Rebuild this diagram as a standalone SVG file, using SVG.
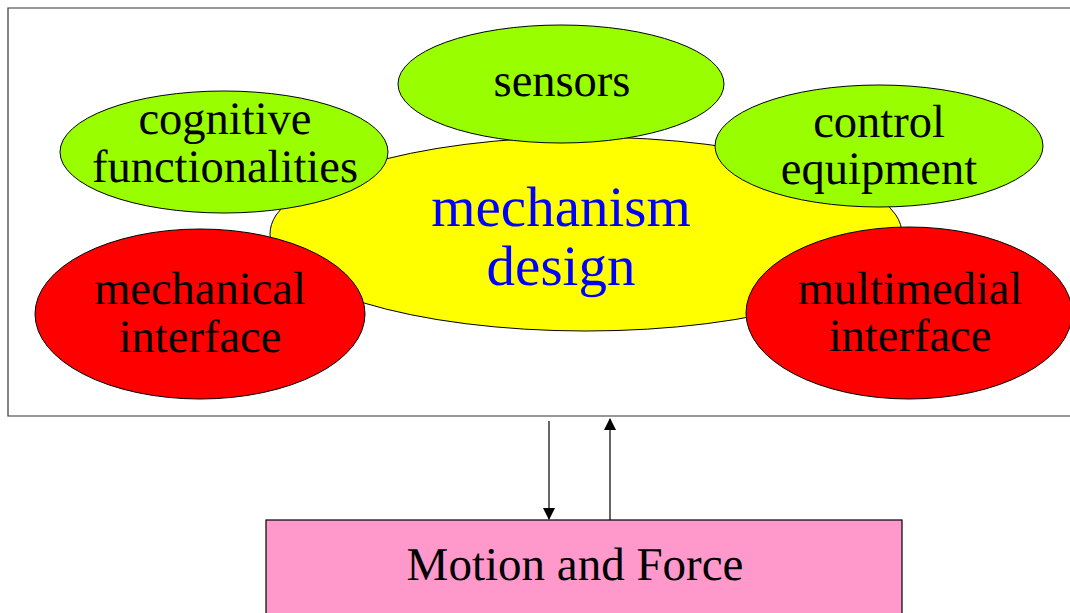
<svg xmlns="http://www.w3.org/2000/svg" width="1070" height="613" viewBox="0 0 1070 613">
  <style>
    .frame { fill: #ffffff; stroke: #333333; stroke-width: 1.2; }
    .ell { stroke: #000000; stroke-width: 1; }
    .green { fill: #99ff00; }
    .red { fill: #ff0000; }
    .yellow { fill: #ffff00; }
    text { font-family: "Liberation Serif", "Times New Roman", serif; text-rendering: geometricPrecision; }
    .lbl { font-size: 46.5px; fill: #000000; text-anchor: middle; }
    .core { font-size: 57px; fill: #0000ff; text-anchor: middle; }
    .conn { stroke: #000000; stroke-width: 1.2; fill: none; marker-end: url(#head); }
  </style>
  <defs>
    <marker id="head" viewBox="0 0 12 12" refX="11" refY="6" markerWidth="12" markerHeight="12" markerUnits="userSpaceOnUse" orient="auto">
      <path d="M0,0 L12,6 L0,12 Z" fill="#000000"/>
    </marker>
  </defs>

  <rect width="1070" height="613" fill="#ffffff"/>

  <!-- outer system frame (open to the right) -->
  <path class="frame" d="M1072,8 L8,8 L8,416 L1072,416"/>

  <g id="mechanism-design">
    <ellipse class="ell yellow" cx="586" cy="234" rx="316" ry="97"/>
    <text class="core" x="561" y="226">mechanism</text>
    <text class="core" x="561" y="285">design</text>
  </g>

  <g id="sensors">
    <ellipse class="ell green" cx="561" cy="84" rx="163" ry="59"/>
    <text class="lbl" x="562" y="96">sensors</text>
  </g>

  <g id="cognitive-functionalities">
    <ellipse class="ell green" cx="224" cy="152" rx="164" ry="61"/>
    <text class="lbl" x="225" y="134">cognitive</text>
    <text class="lbl" x="225" y="182">functionalities</text>
  </g>

  <g id="control-equipment">
    <ellipse class="ell green" cx="879" cy="146" rx="164" ry="61"/>
    <text class="lbl" x="879" y="137">control</text>
    <text class="lbl" x="879" y="184">equipment</text>
  </g>

  <g id="mechanical-interface">
    <ellipse class="ell red" cx="200" cy="314" rx="165" ry="85"/>
    <text class="lbl" x="200" y="304">mechanical</text>
    <text class="lbl" x="200" y="352">interface</text>
  </g>

  <g id="multimedial-interface">
    <ellipse class="ell red" cx="909" cy="313" rx="163" ry="86"/>
    <text class="lbl" x="910" y="304">multimedial</text>
    <text class="lbl" x="910" y="351">interface</text>
  </g>

  <g id="motion-and-force">
    <rect x="266" y="520" width="636" height="100" fill="#ff99cc" stroke="#000000" stroke-width="1.2"/>
    <text class="lbl" x="575" y="580" style="font-size:47px">Motion and Force</text>
  </g>

  <g id="connectors">
    <line class="conn" x1="549" y1="421" x2="549" y2="519"/>
    <line class="conn" x1="610" y1="520" x2="610" y2="419"/>
  </g>
</svg>
